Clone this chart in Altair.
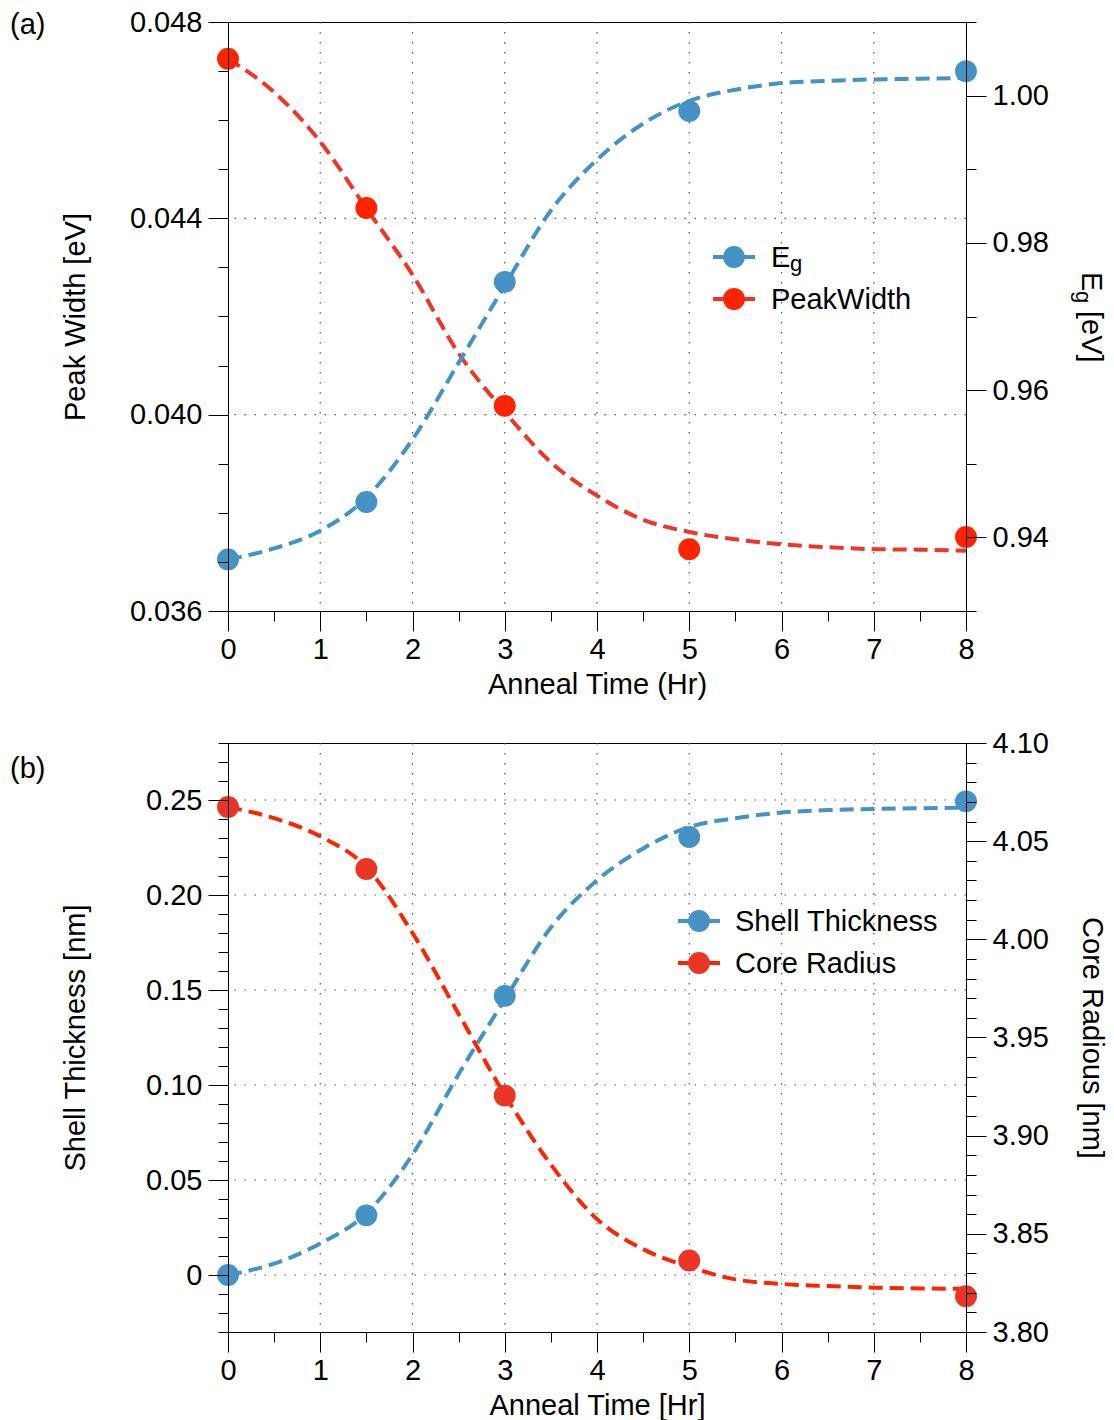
import altair as alt
import numpy as np
import pandas as pd

FONT = "Liberation Sans"
FS = 29
BLUE = "#4592c5"
RED_PT_A = "#ff2400"
RED_LN_A = "#ee3628"
RED_PT_B = "#ea3526"
RED_LN_B = "#ff2400"
GRID = "#555555"

W, H = 738, 589

# measured anneal times [Hr]
anneal_hr = [0, 1.5, 3, 5, 8]

# panel (a)
peak_width = [0.04725, 0.04421, 0.04018, 0.03726, 0.03751]
band_gap = [0.9370, 0.9448, 0.9747, 0.9979, 1.0033]

# panel (b)
shell_thickness = [0.0, 0.0314, 0.1469, 0.2305, 0.2493]
core_radius = [4.0674, 4.0358, 3.9204, 3.8364, 3.8182]

# fitted curves, sampled every half hour
fit_hr = [0, 0.5, 1, 1.5, 2, 2.5, 3, 3.5, 4, 4.5, 5, 5.5, 6, 6.5, 7, 7.5, 8]
peak_width_fit = [0.04725, 0.04657, 0.04556, 0.04420, 0.04285, 0.04125, 0.04006,
                  0.03903, 0.03835, 0.03786, 0.03761, 0.03746, 0.03736, 0.03730,
                  0.03726, 0.03725, 0.03723]
band_gap_fit = [0.9370, 0.9385, 0.9409, 0.9454, 0.9533, 0.9637, 0.9742, 0.9844,
                0.9913, 0.9962, 0.9993, 1.0008, 1.0017, 1.0020, 1.0022, 1.0023,
                1.0024]
shell_fit = [0.0, 0.0060, 0.0166, 0.0324, 0.0634, 0.1057, 0.1450, 0.1829, 0.2077,
             0.2245, 0.2358, 0.2404, 0.2434, 0.2447, 0.2453, 0.2457, 0.2459]
core_fit = [4.0674, 4.0617, 4.0525, 4.0367, 4.0032, 3.9620, 3.9208, 3.8853, 3.8575,
            3.8422, 3.8332, 3.8268, 3.8245, 3.8234, 3.8226, 3.8222, 3.8220]

# axis ranges and tick positions (major + minor)
x_ticks = [float(v) for v in np.round(np.arange(0, 8.01, 0.5), 2)]
x_grid = [1, 2, 3, 4, 5, 6, 7]
pw_ticks = [float(v) for v in np.round(np.arange(0.036, 0.04801, 0.001), 3)]
pw_grid = [0.040, 0.044]
eg_ticks = [float(v) for v in np.round(np.arange(0.93, 1.0101, 0.01), 2)]
st_ticks = [float(v) for v in np.round(np.arange(-0.03, 0.2801, 0.01), 2)]
st_grid = [0.0, 0.05, 0.10, 0.15, 0.20, 0.25]
cr_ticks = [float(v) for v in np.round(np.arange(3.80, 4.1001, 0.01), 2)]

AXIS_STYLE = dict(
    labelFont=FONT, labelFontSize=FS, labelColor="black",
    titleFont=FONT, titleFontSize=FS, titleColor="black", titleFontWeight="normal",
    domainColor="black", domainWidth=1, tickColor="black", tickWidth=1,
    grid=False, labelOverlap=False, labelFlush=False, labelBound=False, zindex=1,
)


def cond(test, a, b):
    return {"condition": {"test": test, "value": a}, "value": b}


def x_enc(title):
    major = "datum.value % 1 === 0"
    axis = alt.Axis(
        values=x_ticks, title=title,
        labelExpr=f"{major} ? format(datum.value, 'd') : ''",
        tickSize=cond(major, 20, 10), labelPadding=4,
        titleX=W / 2, titleY=82, titleBaseline="alphabetic", titleAlign="center",
        **AXIS_STYLE,
    )
    return alt.X("t:Q", scale=alt.Scale(domain=[0, 8], nice=False, zero=False), axis=axis)


def y_enc(field, domain, ticks, major, fmt, orient, title, title_x, angle):
    kw = {}
    if title is not None:
        kw = dict(titleX=title_x, titleY=H / 2, titleAngle=angle,
                  titleBaseline="alphabetic", titleAlign="center")
    axis = alt.Axis(
        values=ticks, orient=orient, title=title,
        labelExpr=f"({major}) ? {fmt} : ''",
        tickSize=cond(major, 20, 10), labelPadding=6, **kw, **AXIS_STYLE,
    )
    return alt.Y(f"{field}:Q", scale=alt.Scale(domain=domain, nice=False, zero=False),
                 axis=axis)


def series(x_enc_, y_enc_, pts, fit, pt_color, ln_color):
    line = alt.Chart(fit).mark_line(
        color=ln_color, strokeWidth=4, strokeDash=[14, 7], interpolate="monotone"
    ).encode(x=x_enc_, y=y_enc_)
    dots = alt.Chart(pts).mark_point(
        filled=True, size=480, opacity=1, color=pt_color
    ).encode(x=x_enc_, y=y_enc_)
    return line, dots


def text(label, x, y, size=FS, angle=0, align="left", baseline="alphabetic"):
    return alt.Chart(pd.DataFrame({"label": [label]})).mark_text(
        font=FONT, fontSize=size, color="black", align=align, baseline=baseline,
        angle=angle
    ).encode(x=alt.value(x), y=alt.value(y), text="label:N")


def legend_item(cx, cy, pt_color, ln_color):
    seg = alt.Chart(pd.DataFrame({"k": [0]})).mark_rule(
        color=ln_color, strokeWidth=4
    ).encode(x=alt.value(cx - 21), x2=alt.value(cx + 21), y=alt.value(cy))
    dot = alt.Chart(pd.DataFrame({"k": [0]})).mark_point(
        filled=True, size=480, opacity=1, color=pt_color
    ).encode(x=alt.value(cx), y=alt.value(cy))
    return seg, dot


def grid_layers(xe, ye, y_values):
    vx = alt.Chart(pd.DataFrame({"t": x_grid})).mark_rule(
        color=GRID, strokeWidth=1.2, strokeDash=[1.5, 8.5]
    ).encode(x=xe)
    hy = alt.Chart(pd.DataFrame({"y": y_values})).mark_rule(
        color=GRID, strokeWidth=1.2, strokeDash=[1.5, 8.5]
    ).encode(y=ye)
    return vx, hy


# ---------- panel (a) ----------
xa = x_enc("Anneal Time (Hr)")
ya_left = y_enc("y", [0.036, 0.048], pw_ticks,
                "round(datum.value*1000) % 4 === 0", "format(datum.value, '.3f')",
                "left", "Peak Width [eV]", -144, 270)
ya_right = y_enc("y", [0.93, 1.01], eg_ticks,
                 "round(datum.value*100) % 2 === 0", "format(datum.value, '.2f')",
                 "right", None, 0, 90)

pw_pts = pd.DataFrame({"t": anneal_hr, "y": peak_width})
pw_line = pd.DataFrame({"t": fit_hr, "y": peak_width_fit})
eg_pts = pd.DataFrame({"t": anneal_hr, "y": band_gap})
eg_line = pd.DataFrame({"t": fit_hr, "y": band_gap_fit})

ga_v, ga_h = grid_layers(xa, ya_left, pw_grid)
red_line_a, red_dots_a = series(xa, ya_left, pw_pts, pw_line, RED_PT_A, RED_LN_A)
blue_line_a, blue_dots_a = series(xa, ya_right, eg_pts, eg_line, BLUE, BLUE)

left_a = alt.layer(ga_v, ga_h, red_line_a, red_dots_a)
right_a = alt.layer(blue_line_a, blue_dots_a)

leg_a = [
    *legend_item(506, 235, BLUE, BLUE),
    *legend_item(506, 277, RED_PT_A, RED_LN_A),
    text("E", 543, 245),
    text("g", 562, 249, size=22),
    text("PeakWidth", 543, 287),
    # right axis title E_g [eV]
    text("E", 854, 250, angle=90),
    text("g", 848, 269, size=22, angle=90),
    text("[eV]", 854, 289, angle=90),
    text("(a)", -218, 3, baseline="middle"),
]

panel_a = alt.layer(left_a, right_a, *leg_a).resolve_scale(y="independent").properties(
    width=W, height=H
)

# ---------- panel (b) ----------
xb = x_enc("Anneal Time [Hr]")
yb_left = y_enc("y", [-0.03, 0.28], st_ticks,
                "(round(datum.value*100) + 100) % 5 === 0",
                "(datum.value === 0 ? '0' : format(datum.value, '.2f'))",
                "left", "Shell Thickness [nm]", -144, 270)
yb_right = y_enc("y", [3.80, 4.10], cr_ticks,
                 "round(datum.value*100) % 5 === 0", "format(datum.value, '.2f')",
                 "right", "Core Radious [nm]", 116, 90)

st_pts = pd.DataFrame({"t": anneal_hr, "y": shell_thickness})
st_line = pd.DataFrame({"t": fit_hr, "y": shell_fit})
cr_pts = pd.DataFrame({"t": anneal_hr, "y": core_radius})
cr_line = pd.DataFrame({"t": fit_hr, "y": core_fit})

gb_v, gb_h = grid_layers(xb, yb_left, st_grid)
blue_line_b, blue_dots_b = series(xb, yb_left, st_pts, st_line, BLUE, BLUE)
red_line_b, red_dots_b = series(xb, yb_right, cr_pts, cr_line, RED_PT_B, RED_LN_B)

left_b = alt.layer(gb_v, gb_h, blue_line_b, blue_dots_b)
right_b = alt.layer(red_line_b, red_dots_b)

leg_b = [
    *legend_item(471, 178, BLUE, BLUE),
    *legend_item(471, 220, RED_PT_B, RED_LN_B),
    text("Shell Thickness", 507, 188),
    text("Core Radius", 507, 230),
    text("(b)", -218, 26, baseline="middle"),
]

panel_b = alt.layer(left_b, right_b, *leg_b).resolve_scale(y="independent").properties(
    width=W, height=H
)

chart = alt.vconcat(panel_a, panel_b, spacing=28).properties(
    padding={"left": 9, "top": 7, "right": 0, "bottom": 3},
    background="white",
).configure_view(
    stroke="black", strokeWidth=1
)

chart.save("out.html", embed_options={"renderer": "svg", "actions": False})
